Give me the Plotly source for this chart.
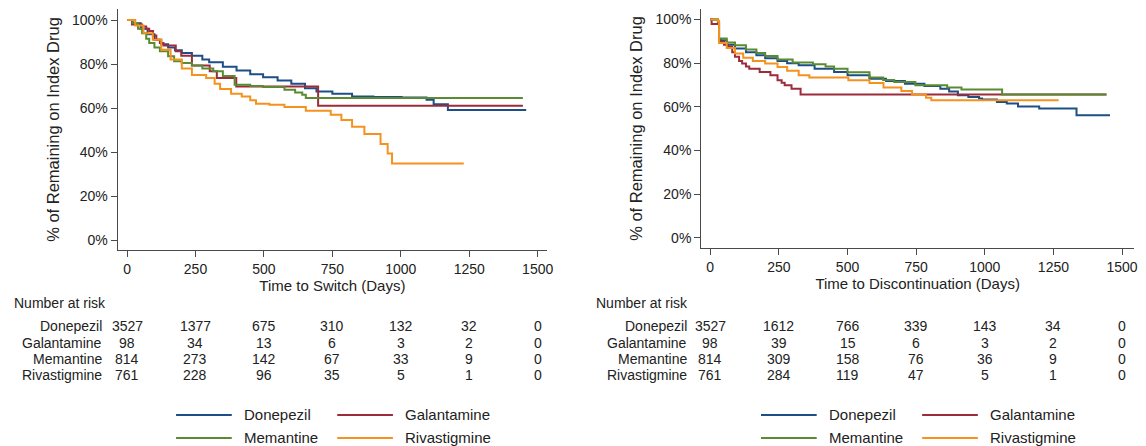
import plotly.graph_objects as go

W, H = 1146, 446

drugs = ["Donepezil", "Galantamine", "Memantine", "Rivastigmine"]
colors = ["#1d4f86", "#9c2b3b", "#5a8a32", "#f5921e"]

# ---- Time to Switch (left panel): KM estimates (day, % remaining) ----
sw_don_t = [0, 20, 50, 75, 100, 125, 150, 175, 200, 237, 275, 300, 350, 400, 450, 497, 550, 600,
            650, 692, 750, 822, 900, 1003, 1094, 1120, 1172, 1458]
sw_don_s = [100, 98.5, 96, 93.5, 91, 89, 87.5, 86.3, 85, 83.8, 82, 80.8, 78.8, 77, 75.3, 74, 72.5, 71,
            69, 67.5, 66.5, 65.2, 65, 64.8, 63.7, 61.7, 59.1, 59.1]
sw_gal_t = [0, 18, 55, 70, 81, 95, 107, 120, 133, 178, 198, 237, 302, 328, 399, 698, 1446]
sw_gal_s = [100, 98, 97, 96, 95, 93, 91, 89.5, 88.4, 85.8, 83.8, 79.3, 76.7, 73.6, 69.8, 61, 61]
sw_mem_t = [0, 20, 40, 55, 70, 81, 100, 120, 150, 172, 200, 237, 275, 315, 350, 393, 450, 497, 575,
            614, 640, 653, 1446]
sw_mem_s = [100, 98.5, 96, 94, 91.5, 89.6, 87.5, 85.8, 83.5, 81.3, 80.5, 79.3, 78, 76.7, 74.5, 70.6,
            70, 69.5, 68.3, 67.1, 66, 64.5, 64.5]
sw_riv_t = [0, 30, 60, 94, 125, 159, 200, 237, 289, 320, 340, 380, 419, 450, 471, 520, 575, 653, 744,
            783, 822, 867, 926, 952, 968, 1230]
sw_riv_s = [100, 97.5, 94, 91, 86.5, 82, 78, 75, 73.6, 71, 68.6, 66.5, 65.2, 63.5, 61.9, 61.5, 60.4,
            58.8, 56.9, 54.6, 51.5, 48.2, 43.6, 39.3, 34.8, 34.8]

# ---- Time to Discontinuation (right panel) ----
dc_don_t = [0, 28, 32, 39, 60, 90, 130, 168, 200, 245, 280, 322, 380, 451, 500, 580, 640, 709, 780,
            838, 870, 902, 940, 979, 990, 1044, 1080, 1121, 1198, 1334, 1456]
dc_don_s = [100, 99, 91, 90.5, 88.5, 86.7, 85, 83.6, 82.3, 81, 80, 79, 77.5, 76, 74.5, 72.9, 71.8,
            70.6, 69.5, 68.3, 67, 65.3, 64.5, 63.8, 63.3, 62.2, 61.5, 60.2, 59.2, 56.1, 56.1]
dc_gal_t = [0, 5, 32, 50, 64, 80, 90, 105, 116, 130, 142, 180, 219, 245, 260, 271, 296, 329, 1443]
dc_gal_s = [100, 98, 89.8, 88.5, 87.5, 85, 82.9, 81, 79.8, 78.5, 77.5, 76, 74.5, 72.2, 71, 69.9, 68.3,
            65.7, 65.7]
dc_mem_t = [0, 28, 32, 60, 90, 130, 168, 200, 245, 300, 374, 420, 451, 500, 580, 630, 670, 747, 863,
            915, 1063, 1443]
dc_mem_s = [100, 99, 91.3, 89.5, 88.2, 86.3, 84.7, 83.3, 81.7, 80.3, 79.5, 78.5, 77.5, 75.8, 73.4,
            72.3, 71.4, 69.9, 68.8, 67.9, 65.7, 65.7]
dc_riv_t = [0, 28, 32, 60, 90, 120, 155, 200, 245, 280, 322, 361, 503, 580, 631, 696, 735, 786, 805,
            1269]
dc_riv_s = [100, 99.5, 89.3, 87, 84.4, 82.5, 81, 79.8, 78.3, 76.5, 74.5, 73.4, 72.2, 70.9, 68.8, 67.3,
            65.7, 64.2, 63, 63]

# ---- Number at risk tables ----
risk_days = [0, 250, 500, 750, 1000, 1250, 1500]
sw_risk = {
    "Donepezil": [3527, 1377, 675, 310, 132, 32, 0],
    "Galantamine": [98, 34, 13, 6, 3, 2, 0],
    "Memantine": [814, 273, 142, 67, 33, 9, 0],
    "Rivastigmine": [761, 228, 96, 35, 5, 1, 0],
}
dc_risk = {
    "Donepezil": [3527, 1612, 766, 339, 143, 34, 0],
    "Galantamine": [98, 39, 15, 6, 3, 2, 0],
    "Memantine": [814, 309, 158, 76, 36, 9, 0],
    "Rivastigmine": [761, 284, 119, 47, 5, 1, 0],
}

x_ticks = [0, 250, 500, 750, 1000, 1250, 1500]
y_ticks = [0, 20, 40, 60, 80, 100]
y_ticktext = ["0%", "20%", "40%", "60%", "80%", "100%"]

FONT = "Arial, Liberation Sans, sans-serif"
AX = "#4a4a4a"
TXT = "#222222"

sw_series = [(sw_don_t, sw_don_s), (sw_gal_t, sw_gal_s), (sw_mem_t, sw_mem_s), (sw_riv_t, sw_riv_s)]
dc_series = [(dc_don_t, dc_don_s), (dc_gal_t, dc_gal_s), (dc_mem_t, dc_mem_s), (dc_riv_t, dc_riv_s)]

fig = go.Figure()
for (t, s), name, c in zip(sw_series, drugs, colors):
    fig.add_trace(go.Scatter(x=t, y=s, mode="lines", line=dict(color=c, width=2, shape="hv"),
                             name=name, showlegend=False, xaxis="x", yaxis="y"))
for (t, s), name, c in zip(dc_series, drugs, colors):
    fig.add_trace(go.Scatter(x=t, y=s, mode="lines", line=dict(color=c, width=2, shape="hv"),
                             name=name, showlegend=False, xaxis="x2", yaxis="y2"))


def px(v):
    return v / W


def py(v):
    return 1 - v / H


def xaxis_cfg(dom, rng, title, anchor):
    return dict(domain=dom, range=rng, anchor=anchor, showline=True, linecolor=AX, linewidth=1.3,
                ticks="outside", ticklen=6, tickwidth=1.2, tickcolor=AX,
                tickmode="array", tickvals=x_ticks,
                showgrid=False, zeroline=False, tickfont=dict(family=FONT, size=14, color=TXT),
                title=dict(text=title, font=dict(family=FONT, size=15, color=TXT), standoff=4))


def yaxis_cfg(dom, rng, anchor):
    return dict(domain=dom, range=rng, anchor=anchor, showline=True, linecolor=AX, linewidth=1.3,
                ticks="outside", ticklen=6, tickwidth=1.2, tickcolor=AX,
                tickmode="array", tickvals=y_ticks, ticktext=y_ticktext,
                showgrid=False, zeroline=False,
                tickfont=dict(family=FONT, size=14, color=TXT),
                title=dict(text="% of Remaining on Index Drug",
                           font=dict(family=FONT, size=16.5, color=TXT), standoff=8))


fig.update_layout(
    width=W, height=H, margin=dict(l=0, r=0, t=0, b=0),
    paper_bgcolor="white", plot_bgcolor="white", showlegend=False,
    xaxis=xaxis_cfg([px(118.3), px(550)], [-34.2, 1534.5], "Time to Switch (Days)", "y"),
    yaxis=yaxis_cfg([py(250), py(9)], [-4.545, 105], "x"),
    xaxis2=xaxis_cfg([px(705), px(1140)], [-32.6, 1543.5], "Time to Discontinuation (Days)", "y2"),
    yaxis2=yaxis_cfg([py(247.7), py(9.3)], [-4.58, 104.7], "x2"),
)

annotations = []
shapes = []
row_y = [326, 343, 359, 375]
TF = 14


def risk_table(xref, risk, title_x, label_right):
    annotations.append(dict(text="Number at risk", xref="paper", yref="paper", x=px(title_x),
                            y=py(303), xanchor="left", yanchor="middle", showarrow=False,
                            font=dict(family=FONT, size=TF, color=TXT)))
    for name, ry in zip(drugs, row_y):
        annotations.append(dict(text=name, xref="paper", yref="paper", x=px(label_right), y=py(ry),
                                xanchor="right", yanchor="middle", showarrow=False,
                                font=dict(family=FONT, size=TF, color=TXT)))
        for d, n in zip(risk_days, risk[name]):
            annotations.append(dict(text=str(n), xref=xref, yref="paper", x=d, y=py(ry),
                                    xanchor="center", yanchor="middle", showarrow=False,
                                    font=dict(family=FONT, size=TF, color=TXT)))


risk_table("x", sw_risk, 12.5, 105)
risk_table("x2", dc_risk, 597, 693)


def legend(x0):
    # two rows x two columns
    pos = [(x0, 415), (x0 + 162, 415), (x0, 438), (x0 + 162, 438)]
    for (lx, ly), name, c in zip(pos, drugs, colors):
        shapes.append(dict(type="line", xref="paper", yref="paper", x0=px(lx), x1=px(lx + 56),
                           y0=py(ly), y1=py(ly), line=dict(color=c, width=2)))
        annotations.append(dict(text=name, xref="paper", yref="paper", x=px(lx + 66), y=py(ly - 1),
                                xanchor="left", yanchor="middle", showarrow=False,
                                font=dict(family=FONT, size=15, color=TXT)))


legend(177)
legend(765)

fig.update_layout(annotations=annotations, shapes=shapes)
fig.write_html("out.html", config={"displayModeBar": False},
               post_script="document.body.style.margin='0';document.body.style.overflow='hidden';")
